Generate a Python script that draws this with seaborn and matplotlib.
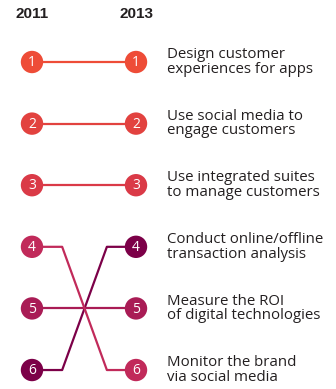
import pandas as pd
import matplotlib.pyplot as plt
import seaborn as sns

sns.set_theme(style="white")
plt.rcParams['font.family'] = ['Open Sans', 'DejaVu Sans']

years = ["2011", "2013"]
labels = [
    "Design customer\nexperiences for apps",
    "Use social media to\nengage customers",
    "Use integrated suites\nto manage customers",
    "Conduct online/offline\ntransaction analysis",
    "Measure the ROI\nof digital technologies",
    "Monitor the brand\nvia social media",
]
rank_2011 = [1, 2, 3, 6, 5, 4]
rank_2013 = [1, 2, 3, 4, 5, 6]
colors = ["#ee4c37", "#e2423f", "#da3a47", "#7c0048", "#a91c55", "#c12a5a"]

df = pd.DataFrame({"label": labels, "r2011": rank_2011, "r2013": rank_2013, "color": colors})

fig = plt.figure(figsize=(3.36, 3.89), dpi=100)
ax = fig.add_axes([0, 0, 1, 1])
ax.set_xlim(-0.3077, 2.923)
ax.set_ylim(6.308, -0.0065)
ax.axis("off")

# bent connectors: flat, diagonal, flat
for _, row in df.iterrows():
    xs = [0, 0.29, 0.72, 1]
    ys = [row.r2011, row.r2011, row.r2013, row.r2013]
    if row.r2011 == row.r2013:
        xs, ys = [0, 1], [row.r2011, row.r2013]
    sns.lineplot(x=xs, y=ys, ax=ax, color=row.color, lw=1.6, sort=False,
                 estimator=None, zorder=1)

for col, xpos in [("r2011", 0), ("r2013", 1)]:
    sns.scatterplot(x=[xpos] * len(df), y=df[col], hue=df["label"],
                    palette=dict(zip(df.label, df.color)), s=260,
                    linewidth=0, legend=False, ax=ax, zorder=2)
    for r in df[col]:
        ax.text(xpos, r + 0.01, str(r), color="white", fontsize=10,
                ha="center", va="center", zorder=3)

for i, y in enumerate(years):
    ax.text(i, 0.22, y, fontsize=11, fontweight="bold", ha="center",
            va="center", color="#231f20", family=["Liberation Sans"])

for _, row in df.iterrows():
    ax.text(1.30, row.r2013, row.label, fontsize=10.8, ha="left", va="center",
            color="#231f20", linespacing=0.95)

fig.savefig("out.png", dpi=100)
